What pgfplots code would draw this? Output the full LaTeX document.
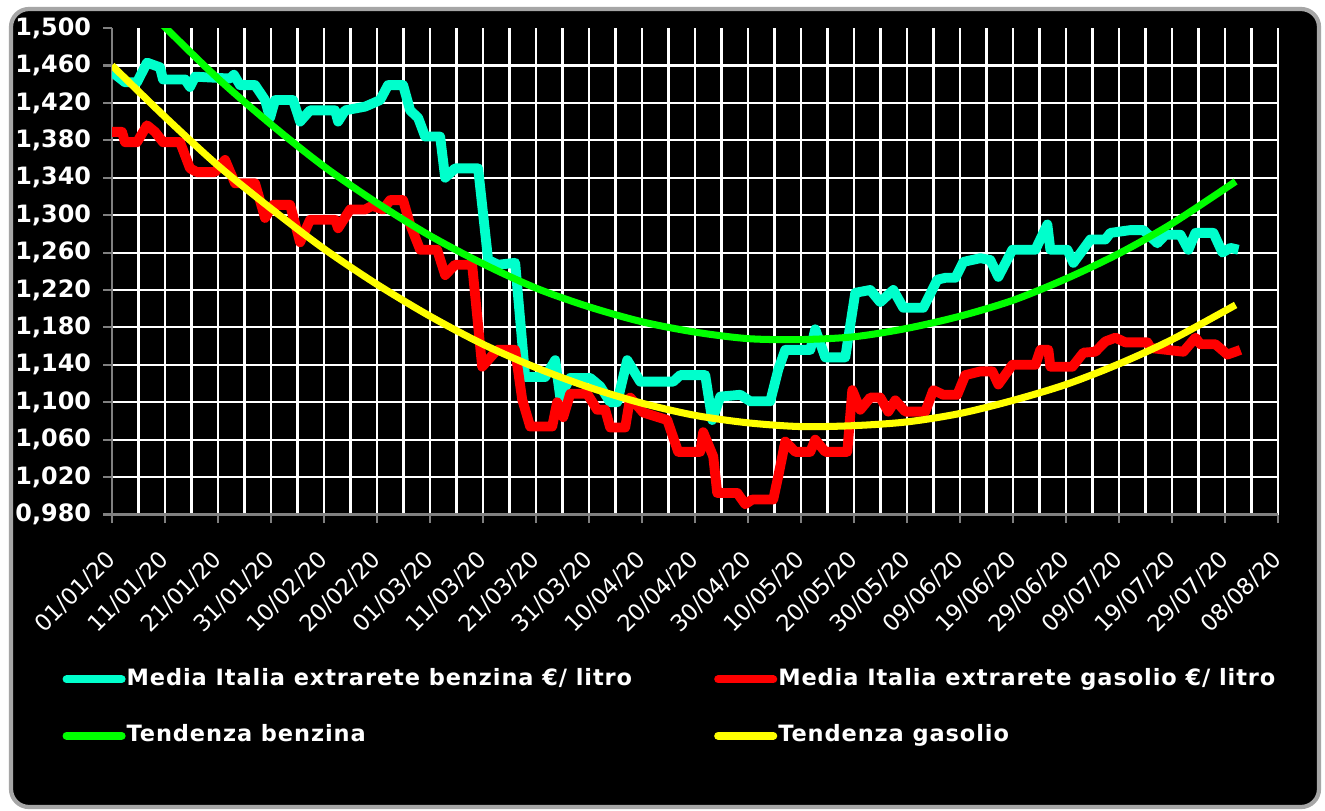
\documentclass[border=0pt]{standalone}
\usepackage{pgfplots}
\pgfplotsset{compat=1.18}
\usepackage{fontspec}
\setmainfont{DejaVu Sans}
\newfontfamily\legfont{DejaVu Sans}[LetterSpace=4]
\definecolor{benz}{RGB}{0,255,204}
\definecolor{gaso}{RGB}{255,0,0}
\definecolor{tbenz}{RGB}{0,255,0}
\definecolor{tgaso}{RGB}{255,255,0}
\begin{document}
\begin{tikzpicture}
\fill[white] (0,0) rectangle (13.25,8.10);
\useasboundingbox (0,0) rectangle (13.25,8.10);
\filldraw[fill=black, draw=gray!70, line width=1.2pt, rounded corners=0.18cm] (0.11,0.03) rectangle (13.19,8.01);
\begin{axis}[
  at={(1.12cm,2.955cm)}, anchor=south west,
  scale only axis, width=11.66cm, height=4.865cm,
  xmin=0, xmax=220, ymin=0.98, ymax=1.5,
  axis x line*=bottom, axis y line*=left,
  axis line style={gray, line width=0.6pt, -},
  xtick={0,10,...,220}, minor x tick num=1,
  xticklabels={01/01/20,11/01/20,21/01/20,31/01/20,10/02/20,20/02/20,01/03/20,11/03/20,21/03/20,31/03/20,10/04/20,20/04/20,30/04/20,10/05/20,20/05/20,30/05/20,09/06/20,19/06/20,29/06/20,09/07/20,19/07/20,29/07/20,08/08/20},
  ytick={0.98,1.02,1.06,1.10,1.14,1.18,1.22,1.26,1.30,1.34,1.38,1.42,1.46},
  extra y ticks={1.5}, extra y tick style={grid=none},
  grid=both, major grid style={white, line width=0.6pt}, minor grid style={white, line width=0.6pt},
  tick style={gray, line width=0.6pt}, tick align=outside,
  major tick length=0.85mm, minor tick length=0pt,
  /pgf/number format/assume math mode=true,
  /pgf/number format/fixed, /pgf/number format/fixed zerofill,
  /pgf/number format/precision=3, /pgf/number format/use comma,
  /pgf/number format/1000 sep={},
  yticklabel style={font=\bfseries\fontsize{6.8}{8}\selectfont, text=white},
  xticklabel style={xshift=0.25mm, yshift=-2.95mm, rotate=45, anchor=east, font=\fontsize{6.5}{7.5}\selectfont, text=white, inner sep=1pt},
  legend columns=2,
  legend style={draw=none, fill=none, text=white, at={(-0.043,-0.300)}, anchor=north west,
    font=\legfont\bfseries\fontsize{6.4}{7.5}\selectfont, inner sep=0pt, row sep=2.0mm,
    /tikz/every even column/.append style={column sep=0.75cm},
    /tikz/every odd column/.append style={column sep=-0.6mm}},
  legend cell align=left,
  legend image code/.code={\draw[#1, line width=2.3pt, line cap=round] (0cm,0cm) -- (0.55cm,0cm);},
  clip=true,
]
\addplot[benz, line width=2.8pt, line join=round] coordinates {
(0,1.453)(2.45,1.442)(4.72,1.442)(6.61,1.463)(9.06,1.458)(9.63,1.445)(13.78,1.445)(14.72,1.437)(15.67,1.448)(22.27,1.446)(23.0,1.450)(24.16,1.439)(26.99,1.439)(28.88,1.423)(29.82,1.404)(30.77,1.423)(34.16,1.423)(35.49,1.400)(37.37,1.412)(42.09,1.412)(42.66,1.400)(43.98,1.412)(47.77,1.416)(50.59,1.423)(52.09,1.439)(54.93,1.439)(56.25,1.412)(57.76,1.404)(59.08,1.384)(61.91,1.384)(62.86,1.340)(63.80,1.345)(64.74,1.350)(69.08,1.350)(70.97,1.252)(72.86,1.247)(76.07,1.249)(77.96,1.127)(81.73,1.127)(83.62,1.145)(84.56,1.106)(86.45,1.126)(90.22,1.126)(92.11,1.117)(94.00,1.100)(95.32,1.100)(97.21,1.145)(99.66,1.122)(105.89,1.122)(107.21,1.129)(111.93,1.129)(113.25,1.081)(114.76,1.106)(118.54,1.108)(120.42,1.101)(124.20,1.101)(125.71,1.135)(127.03,1.156)(131.75,1.156)(132.69,1.178)(134.58,1.148)(138.35,1.148)(140.24,1.217)(143.07,1.220)(144.96,1.207)(147.41,1.220)(149.30,1.201)(153.08,1.201)(155.72,1.231)(157.23,1.233)(159.12,1.233)(160.63,1.250)(163.84,1.254)(165.72,1.252)(167.23,1.234)(169.88,1.263)(174.22,1.263)(176.48,1.290)(177.05,1.263)(180.26,1.263)(181.39,1.249)(184.60,1.274)(187.43,1.274)(188.37,1.281)(192.15,1.284)(194.60,1.284)(197.24,1.270)(198.75,1.279)(201.58,1.279)(203.09,1.263)(204.42,1.281)(207.81,1.281)(209.51,1.260)(211.02,1.265)(212.53,1.263)
};
\addlegendentry{Media Italia extrarete benzina €/ litro}
\addplot[gaso, line width=2.8pt, line join=round] coordinates {
(0,1.389)(1.89,1.389)(2.45,1.378)(4.72,1.378)(6.61,1.396)(8.12,1.389)(9.63,1.378)(12.84,1.378)(14.72,1.350)(16.04,1.346)(19.44,1.346)(21.33,1.359)(23.22,1.334)(26.99,1.334)(28.88,1.297)(30.39,1.311)(33.60,1.311)(35.49,1.271)(37.37,1.295)(42.09,1.295)(42.66,1.286)(44.92,1.306)(47.77,1.306)(49.08,1.310)(51.15,1.306)(52.47,1.316)(54.93,1.316)(56.25,1.290)(58.14,1.263)(61.34,1.263)(62.86,1.236)(64.74,1.247)(67.95,1.247)(69.84,1.138)(72.67,1.156)(76.07,1.156)(77.39,1.103)(78.90,1.074)(83.05,1.074)(83.99,1.100)(85.13,1.084)(86.45,1.109)(89.66,1.109)(91.54,1.092)(93.05,1.092)(94.00,1.073)(96.83,1.073)(97.77,1.105)(100.23,1.089)(104.76,1.081)(106.83,1.047)(110.98,1.047)(111.55,1.068)(113.44,1.042)(114.19,1.003)(117.97,1.003)(119.48,0.991)(120.80,0.996)(124.76,0.996)(125.71,1.021)(127.03,1.058)(128.92,1.047)(131.75,1.047)(132.69,1.060)(134.58,1.047)(138.73,1.047)(139.68,1.113)(141.19,1.092)(143.07,1.105)(144.96,1.105)(146.47,1.090)(147.79,1.102)(149.68,1.090)(153.45,1.090)(154.96,1.113)(156.85,1.108)(159.49,1.108)(161.00,1.129)(163.84,1.133)(166.10,1.133)(167.23,1.119)(169.88,1.140)(174.22,1.140)(175.16,1.156)(176.67,1.156)(177.05,1.138)(181.20,1.138)(183.28,1.153)(185.54,1.154)(187.43,1.165)(189.32,1.169)(191.20,1.164)(195.36,1.164)(195.92,1.158)(202.15,1.154)(204.42,1.169)(205.36,1.162)(208.19,1.162)(210.46,1.151)(211.97,1.154)(212.91,1.156)
};
\addlegendentry{Media Italia extrarete gasolio €/ litro}
\addplot[tbenz, line width=2pt, smooth] coordinates {
(0,1.559)(10,1.501)(20,1.446)(30,1.397)(40,1.352)(50,1.313)(60,1.278)(70,1.248)(80,1.222)(90,1.202)(100,1.186)(110,1.175)(120,1.168)(130,1.167)(140,1.170)(150,1.179)(160,1.192)(170,1.209)(180,1.232)(190,1.259)(200,1.291)(212,1.336)
};
\addlegendentry{Tendenza benzina}
\addplot[tgaso, line width=2pt, smooth] coordinates {
(0,1.460)(10,1.405)(20,1.353)(30,1.307)(40,1.264)(50,1.226)(60,1.192)(70,1.162)(80,1.137)(90,1.116)(100,1.099)(110,1.086)(120,1.078)(130,1.074)(140,1.075)(150,1.079)(160,1.088)(170,1.102)(180,1.119)(190,1.141)(200,1.167)(212,1.204)
};
\addlegendentry{Tendenza gasolio}
\end{axis}
\end{tikzpicture}
\end{document}
